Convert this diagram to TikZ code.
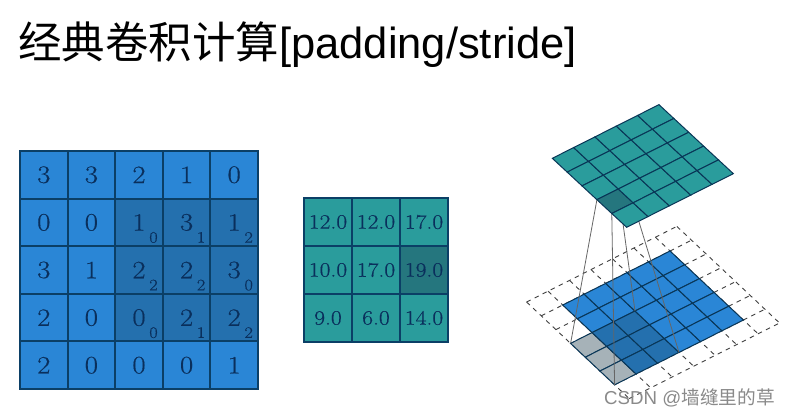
\documentclass[tikz,border=0pt]{standalone}
\usepackage{fontspec}
\newfontfamily\titlefont{Liberation Sans}
\newfontfamily\cjkfont{Noto Sans CJK SC}
\newfontfamily\digitfont[FakeBold=0.5,FakeStretch=1.15]{Latin Modern Roman}
\definecolor{InBlue}{HTML}{2A86D6}
\definecolor{InDark}{HTML}{2470AE}
\definecolor{OutTeal}{HTML}{2A9C9C}
\definecolor{OutDark}{HTML}{25767E}
\definecolor{GridNavy}{HTML}{0B3F66}
\definecolor{DigitNavy}{HTML}{0A2F5C}
\definecolor{KernelGray}{HTML}{A6B2B8}
\definecolor{MarkGray}{HTML}{8A8A8A}
\usetikzlibrary{positioning}

\begin{document}
\begin{tikzpicture}[
  x=1pt, y=-1pt,
  incell/.style={rectangle, draw=GridNavy, line width=1.9pt, minimum size=47.6pt,
                 inner sep=0pt, text=DigitNavy, font=\digitfont\fontsize{25}{25}\selectfont},
  outcell/.style={rectangle, draw=GridNavy, line width=1.9pt, minimum size=48pt,
                  inner sep=0pt, text=DigitNavy, font=\digitfont\fontsize{20.5}{20.5}\selectfont},
  subnum/.style={inner sep=0pt, text=DigitNavy, font=\digitfont\fontsize{16}{16}\selectfont},
  face/.style={draw=GridNavy!85!black, line width=1pt},
  padline/.style={draw=black!75, line width=0.9pt, dash pattern=on 4.5pt off 4.5pt},
  proj/.style={draw=black!60, line width=0.8pt},
]
\useasboundingbox (0,0) rectangle (791,416);
\fill[white] (0,0) rectangle (791,416);
\node[anchor=base west, inner sep=0pt, font=\fontsize{43.5}{43.5}\selectfont] (title) at (18,58)
  {{\cjkfont 经典卷积计算}{\titlefont [padding/stride]}};

% input grid
\def\inx{20}
\def\iny{151}
\def\inw{47.6}
\foreach \rowvals [count=\r from 0] in {{3,3,2,1,0},{0,0,1,3,1},{3,1,2,2,3},{2,0,0,2,2},{2,0,0,0,1}} {
  \foreach \v [count=\c from 0] in \rowvals {
    \pgfmathtruncatemacro\hot{(\r>0)*(\r<4)*(\c>1)}
    \ifnum\hot=1 \def\cellcol{InDark}\else\def\cellcol{InBlue}\fi
    \node[incell, fill=\cellcol] (in-\r-\c) at ({\inx+(\c+0.5)*\inw},{\iny+(\r+0.5)*\inw}) {\v};
  }
}
\foreach \r/\c/\k in {1/2/0,1/3/1,1/4/2,2/2/2,2/3/2,2/4/0,3/2/0,3/3/1,3/4/2} {
  \node[subnum] (sub-\r-\c) at ([shift={(14.5,15)}]in-\r-\c.center) {\k};
}

% output grid
\def\outx{304}
\def\outy{198}
\def\outw{48}
\foreach \r/\c/\v in {0/0/12.0,0/1/12.0,0/2/17.0,1/0/10.0,1/1/17.0,2/0/9.0,2/1/6.0,2/2/14.0} {
  \node[outcell, fill=OutTeal] (out-\r-\c) at ({\outx+(\c+0.5)*\outw},{\outy+(\r+0.5)*\outw}) {\v};
}
\node[outcell, fill=OutDark] (out-1-2) at ({\outx+2.5*\outw},{\outy+1.5*\outw}) {19.0};

% lower plane: padded input
\begin{scope}[shift={(562.7,305)}, x={(21.47pt,10.8pt)}, y={(14.67pt,-13.8pt)}]
  \foreach \k in {-1,...,6} {
    \draw[padline] (\k,-1) -- (\k,6);
    \draw[padline] (-1,\k) -- (6,\k);
  }
  \foreach \j in {2,3,4} {
    \filldraw[face, fill=KernelGray] (-1,\j) -- (0,\j) -- (0,\j+1) -- (-1,\j+1) -- cycle;
  }
  \foreach \i in {0,...,4} {
    \foreach \j in {0,...,4} {
      \pgfmathtruncatemacro\hot{(\i<2)*(\j>1)}
      \ifnum\hot=1 \def\cellcol{InDark}\else\def\cellcol{InBlue}\fi
      \filldraw[face, fill=\cellcol] (\i,\j) -- (\i+1,\j) -- (\i+1,\j+1) -- (\i,\j+1) -- cycle;
    }
  }
  \coordinate (kern-l) at (-1,2);
  \coordinate (kern-t) at (2,2);
  \coordinate (kern-r) at (2,5);
  \coordinate (kern-b) at (-1,5);
\end{scope}

% upper plane: output
\begin{scope}[shift={(552.3,158.3)}, x={(21.33pt,10.73pt)}, y={(14.87pt,-13.8pt)}]
  \coordinate (dark-l) at (0,3);
  \coordinate (dark-t) at (1,3);
  \coordinate (dark-r) at (1,4);
  \coordinate (dark-b) at (0,4);
\end{scope}
\draw[proj] (dark-l) -- (kern-l);
\draw[proj] (dark-t) -- (kern-t);
\draw[proj] (dark-r) -- (kern-r);
\draw[proj] (dark-b) -- (kern-b);
\begin{scope}[shift={(552.3,158.3)}, x={(21.33pt,10.73pt)}, y={(14.87pt,-13.8pt)}]
  \foreach \i in {0,...,4} {
    \foreach \j in {0,...,4} {
      \pgfmathtruncatemacro\hot{(\i==0)*(\j==3)}
      \ifnum\hot=1 \def\cellcol{OutDark}\else\def\cellcol{OutTeal}\fi
      \filldraw[face, fill=\cellcol] (\i,\j) -- (\i+1,\j) -- (\i+1,\j+1) -- (\i,\j+1) -- cycle;
    }
  }
\end{scope}

\node[anchor=base east, inner sep=0pt, text=MarkGray, font=\fontsize{18.7}{18.7}\selectfont] (mark) at (775,404)
  {{\titlefont CSDN @}{\cjkfont 墙缝里的草}};
\end{tikzpicture}
\end{document}
